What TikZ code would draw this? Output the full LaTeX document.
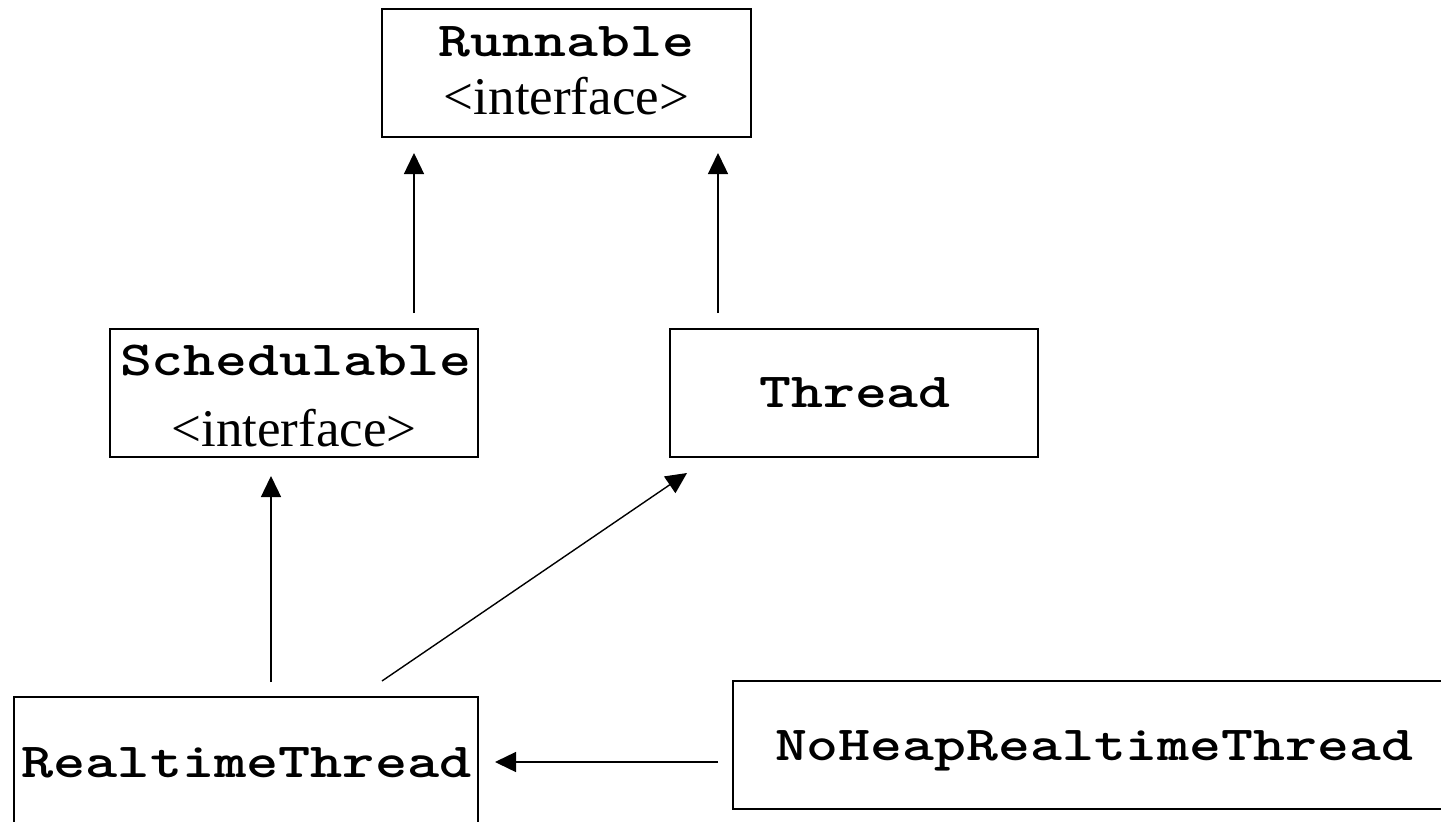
\documentclass[tikz,border=0pt]{standalone}
\usepackage{fontspec}
\setmainfont{Liberation Serif}
\usetikzlibrary{arrows.meta}
\newcommand\clsname[2][1.24]{\scalebox{#1}[1]{\ttfamily\bfseries #2}}
\begin{document}
\begin{tikzpicture}[x=1pt,y=-1pt,
  box/.style={draw, line width=1.4pt, inner sep=0pt, outer sep=0pt},
  cname/.style={font=\fontsize{49}{58}\selectfont, anchor=base, inner sep=0pt},
  iface/.style={font=\fontsize{53}{60}\selectfont, anchor=base, inner sep=0pt},
  arr/.style={line width=1.4pt, -{Triangle[width=20pt,length=21pt]}}]
\useasboundingbox (0,0) rectangle (1441,822);
\clip (0,0) rectangle (1441,822);
% boxes
\node[box, minimum width=369pt, minimum height=128pt] (run) at (566.5,73) {};
\node[box, minimum width=368pt, minimum height=128pt] (sch) at (294,393) {};
\node[box, minimum width=368pt, minimum height=128pt] (thr) at (854,393) {};
\node[box, minimum width=464pt, minimum height=130pt] (rt) at (246,762) {};
\node[box, minimum width=740pt, minimum height=128pt] (nh) at (1103,745) {};
% texts
\node[cname] (runt) at (566.5,56) {\clsname{Runnable}};
\node[iface] (runi) at (566.5,114) {<interface>};
\node[cname] (scht) at (295.5,375) {\clsname{Schedulable}};
\node[iface] (schi) at (294,446) {<interface>};
\node[cname] (thrt) at (855,407) {\clsname{Thread}};
\node[cname] (rtt) at (246.5,777) {\clsname[1.25]{RealtimeThread}};
\node[cname] (nht) at (1094,760) {\clsname{NoHeapRealtimeThread}};
% connectors
\draw[arr, shorten <=16pt, shorten >=16pt] ([xshift=120pt]sch.north) -- ([xshift=-152.5pt]run.south);
\draw[arr, shorten <=16pt, shorten >=16pt] ([xshift=-136pt]thr.north) -- ([xshift=151.5pt]run.south);
\draw[arr, shorten <=15pt, shorten >=19pt] ([xshift=25pt]rt.north) -- ([xshift=-23pt]sch.south);
\draw[arr, shorten <=28.4pt, shorten >=28.4pt] ([xshift=112.5pt]rt.north) -- ([xshift=-143.5pt]thr.south);
\draw[arr, shorten <=15pt, shorten >=17pt] (nh.west |- rt.east) -- (rt.east);
\end{tikzpicture}
\end{document}
